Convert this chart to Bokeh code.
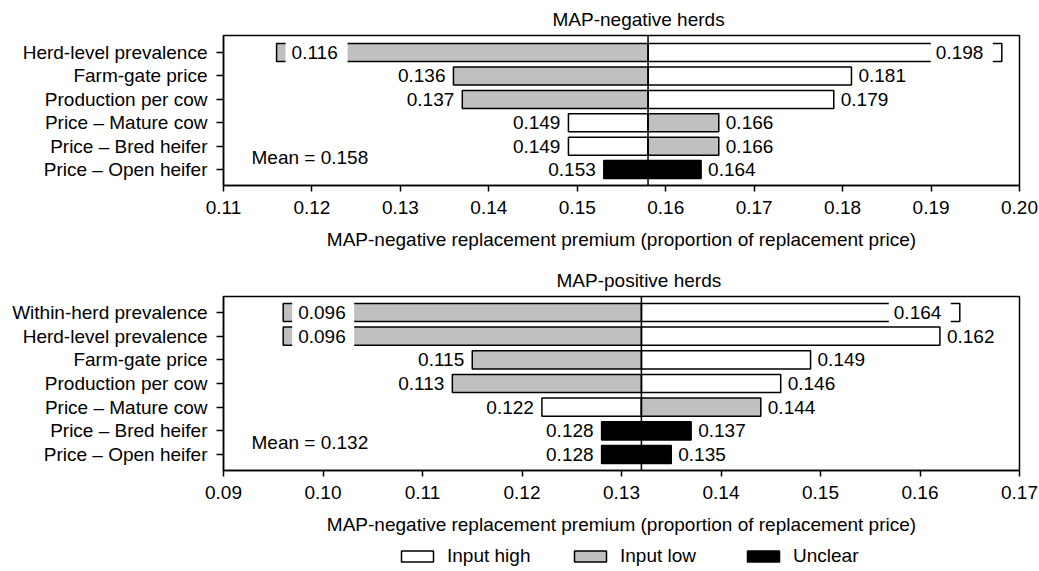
from bokeh.plotting import figure
from bokeh.models import (ColumnDataSource, Range1d, FixedTicker, NumeralTickFormatter,
                          Span, Label, Legend, LegendItem, Title)
from bokeh.layouts import column
from bokeh.core.properties import value
from bokeh.embed import file_html
from bokeh.resources import INLINE

FONT = "Liberation Sans"
FS = "19px"
X_LABEL = "MAP-negative replacement premium (proportion of replacement price)"

# ---- MAP-negative herds ----
neg_title = "MAP-negative herds"
neg_inputs = ["Herd-level prevalence", "Farm-gate price", "Production per cow",
              "Price \u2013 Mature cow", "Price \u2013 Bred heifer", "Price \u2013 Open heifer"]
neg_left = [0.116, 0.136, 0.137, 0.149, 0.149, 0.153]
neg_right = [0.198, 0.181, 0.179, 0.166, 0.166, 0.164]
neg_left_kind = ["low", "low", "low", "high", "high", "unclear"]
neg_mean = 0.158
neg_ticks = [0.11, 0.12, 0.13, 0.14, 0.15, 0.16, 0.17, 0.18, 0.19, 0.20]
neg_broken = [("Herd-level prevalence", "left"), ("Herd-level prevalence", "right")]

# ---- MAP-positive herds ----
pos_title = "MAP-positive herds"
pos_inputs = ["Within-herd prevalence", "Herd-level prevalence", "Farm-gate price",
              "Production per cow", "Price \u2013 Mature cow", "Price \u2013 Bred heifer",
              "Price \u2013 Open heifer"]
pos_left = [0.096, 0.096, 0.115, 0.113, 0.122, 0.128, 0.128]
pos_right = [0.164, 0.162, 0.149, 0.146, 0.144, 0.137, 0.135]
pos_left_kind = ["low", "low", "low", "low", "high", "unclear", "unclear"]
pos_mean = 0.132
pos_ticks = [0.09, 0.10, 0.11, 0.12, 0.13, 0.14, 0.15, 0.16, 0.17]
pos_broken = [("Within-herd prevalence", "left"), ("Within-herd prevalence", "right"),
              ("Herd-level prevalence", "left")]

kinds = ["high", "low", "unclear"]
legend_labels = {"high": "Input high", "low": "Input low", "unclear": "Unclear"}

FILL = {"high": "white", "low": "#c0c0c0", "unclear": "black"}
BAR_H = 0.77
W = 1039
BORDER_L, BORDER_R = 223, 20
FRAME_W = W - BORDER_L - BORDER_R
PIECE_PX, GAP_PX, BRACKET_PX = 9, 62, 9


def tornado(title, title_offset, inputs, left, right, left_kind, mean, ticks, broken,
            height, b_top, b_bottom, pad_top, pad_bottom):
    n = len(inputs)
    x0, x1 = ticks[0], ticks[-1]
    ppu = FRAME_W / (x1 - x0)  # screen pixels per data unit

    p = figure(width=W, height=height, output_backend="svg", toolbar_location=None,
               x_range=Range1d(x0, x1), y_range=Range1d(-pad_bottom, n - 1 + pad_top),
               min_border_left=BORDER_L, min_border_right=BORDER_R,
               min_border_top=b_top, min_border_bottom=b_bottom)
    p.title = Title(text=title, align="left", offset=title_offset, text_font=FONT,
                    text_font_size=FS, text_font_style="normal", text_color="black",
                    standoff=12)
    p.grid.visible = False
    p.outline_line_color = "black"
    p.outline_line_width = 1.5
    p.background_fill_color = "white"
    p.border_fill_color = "white"

    segs = {k: dict(left=[], right=[], y=[]) for k in kinds}

    def add(kind, a, b, y):
        segs[kind]["left"].append(a)
        segs[kind]["right"].append(b)
        segs[kind]["y"].append(y)

    for i in range(n):
        y = n - 1 - i
        lo, hi, kind = left[i], right[i], left_kind[i]
        if kind == "unclear":
            add("unclear", lo, hi, y)
        else:
            other = "low" if kind == "high" else "high"
            add(kind, lo, mean, y)
            add(other, mean, hi, y)

    sources = {k: ColumnDataSource(segs[k]) for k in kinds}
    for k in kinds:
        p.hbar(y="y", left="left", right="right", height=BAR_H,
               fill_color=FILL[k], line_color="black", line_width=1.5, source=sources[k])

    # break long bars to make room for their value labels
    mask = dict(left=[], right=[], y=[])
    for name, side in broken:
        i = inputs.index(name)
        if side == "left":
            a = left[i] + PIECE_PX / ppu
            b = a + GAP_PX / ppu
        else:
            b = right[i] - BRACKET_PX / ppu
            a = b - GAP_PX / ppu
        mask["left"].append(a)
        mask["right"].append(b)
        mask["y"].append(n - 1 - i)
    p.hbar(y="y", left="left", right="right", height=BAR_H + 0.16,
           fill_color="white", line_color=None, source=ColumnDataSource(mask))

    lab = dict(x=[], y=[], text=[], align=[], dx=[])
    for i, name in enumerate(inputs):
        y = n - 1 - i
        lab["x"].append(left[i]); lab["y"].append(y); lab["text"].append(f"{left[i]:.3f}")
        if (name, "left") in broken:
            lab["align"].append("left"); lab["dx"].append(PIECE_PX + 6)
        else:
            lab["align"].append("right"); lab["dx"].append(-8)
        lab["x"].append(right[i]); lab["y"].append(y); lab["text"].append(f"{right[i]:.3f}")
        lab["align"].append("left")
        if (name, "right") in broken:
            lab["dx"].append(-(BRACKET_PX + GAP_PX) + 5)
        else:
            lab["dx"].append(7)
    p.text(x="x", y="y", text="text", text_align="align", x_offset="dx",
           text_baseline="middle", text_font=value(FONT), text_font_size=value(FS),
           text_color="black", source=ColumnDataSource(lab))

    p.add_layout(Span(location=mean, dimension="height", line_color="black", line_width=1.5))
    p.add_layout(Label(x=x0, y=0.5, x_offset=28, text=f"Mean = {mean:.3f}",
                       text_baseline="middle", text_font=FONT, text_font_size=FS,
                       text_color="black"))

    xa = p.xaxis[0]
    xa.ticker = FixedTicker(ticks=ticks)
    xa.formatter = NumeralTickFormatter(format="0.00")
    xa.axis_label = X_LABEL
    xa.axis_label_text_font = FONT
    xa.axis_label_text_font_size = FS
    xa.axis_label_text_font_style = "normal"
    xa.axis_label_text_color = "black"
    xa.axis_label_standoff = 12
    xa.major_label_text_font = FONT
    xa.major_label_text_font_size = FS
    xa.major_label_text_color = "black"
    xa.major_label_standoff = 9
    xa.major_tick_out = 6
    xa.major_tick_in = 0
    xa.minor_tick_out = 0
    xa.minor_tick_in = 0
    xa.axis_line_width = 1.5
    xa.major_tick_line_width = 1.5

    ya = p.yaxis[0]
    ya.ticker = FixedTicker(ticks=list(range(n)))
    ya.major_label_overrides = {n - 1 - i: name for i, name in enumerate(inputs)}
    ya.major_label_text_font = FONT
    ya.major_label_text_font_size = FS
    ya.major_label_text_color = "black"
    ya.major_label_standoff = 9
    ya.major_tick_out = 7
    ya.major_tick_in = 0
    ya.minor_tick_out = 0
    ya.minor_tick_in = 0
    ya.axis_line_width = 1.5
    ya.major_tick_line_width = 1.5
    return p, sources


def key_strip(height, sources):
    # shared key for the bar fills; its renderers reuse the panel's bar data but
    # stay muted (fully transparent), so only the key entries are drawn
    p = figure(width=W, height=height, output_backend="svg", toolbar_location=None,
               x_range=Range1d(1000, 1001), y_range=Range1d(1000, 1001),
               min_border_left=BORDER_L, min_border_right=BORDER_R,
               min_border_top=0, min_border_bottom=0)
    p.axis.visible = False
    p.grid.visible = False
    p.outline_line_color = None
    items = []
    for k in kinds:
        r = p.hbar(y="y", left="left", right="right", height=BAR_H, fill_color=FILL[k],
                   line_color="black", line_width=1.5, source=sources[k],
                   muted_fill_alpha=0, muted_line_alpha=0)
        r.muted = True
        items.append(LegendItem(label=legend_labels[k], renderers=[r]))
    leg = Legend(items=items, orientation="horizontal", location=(174, 4),
                 glyph_width=40, glyph_height=14, label_standoff=10, spacing=35,
                 label_width=88, border_line_color=None, background_fill_alpha=0,
                 label_text_font=FONT, label_text_font_size=FS,
                 label_text_color="black", padding=0, margin=0)
    p.add_layout(leg)
    return p


top, _ = tornado(neg_title, 329, neg_inputs, neg_left, neg_right, neg_left_kind, neg_mean,
                 neg_ticks, neg_broken, height=260, b_top=35, b_bottom=75,
                 pad_top=0.73, pad_bottom=0.68)
bottom, pos_sources = tornado(pos_title, 333, pos_inputs, pos_left, pos_right, pos_left_kind,
                              pos_mean, pos_ticks, pos_broken, height=281, b_top=36,
                              b_bottom=71, pad_top=0.676, pad_bottom=0.676)
key = key_strip(30, pos_sources)

page = column(top, bottom, key, spacing=0)
open("out.html", "w").write(file_html(page, INLINE))
